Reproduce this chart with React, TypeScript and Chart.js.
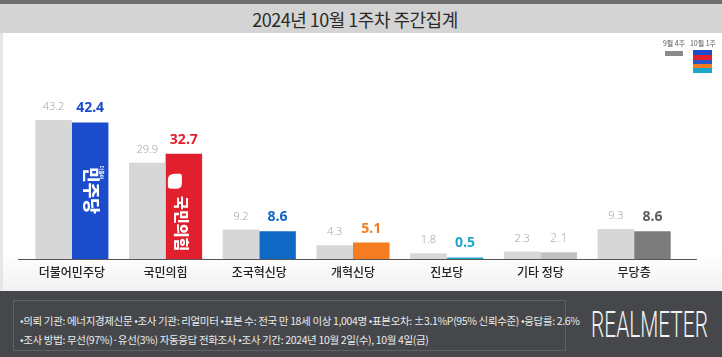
import React, { useEffect, useRef } from "react";
import { Chart, registerables } from "chart.js";

Chart.register(...registerables);

const categories = ["더불어민주당", "국민의힘", "조국혁신당", "개혁신당", "진보당", "기타 정당", "무당층"];
const prevWeek = [43.2, 29.9, 9.2, 4.3, 1.8, 2.3, 9.3];
const thisWeek = [42.4, 32.7, 8.6, 5.1, 0.5, 2.1, 8.6];
const prevLabel = "9월 4주";
const thisLabel = "10월 1주";
const thisColors = ["#1a4ccc", "#e11f2d", "#1069c4", "#f57c20", "#1ea7cc", "#c2c2c2", "#7c7c7c"];
const thisLabelColors = ["#1a4ccc", "#e11f2d", "#1069c4", "#f57c20", "#1ea7cc", "#b4b4b4", "#5e5e5e"];
const thisLabelBold = [true, true, true, true, true, false, true];
const prevColor = "#d7d7d7";

const title = "2024년 10월 1주차 주간집계";
const footLine1 = "•의뢰 기관: 에너지경제신문  •조사 기관: 리얼미터 •표본 수: 전국 만 18세 이상 1,004명 •표본오차: ±3.1%P(95% 신뢰수준) •응답률: 2.6%";
const footLine2 = "•조사 방법: 무선(97%)·유선(3%) 자동응답 전화조사 •조사 기간: 2024년 10월 2일(수), 10월 4일(금)";

const KR = "'Noto Sans CJK KR', 'Noto Sans', sans-serif";

const overlay = {
  id: "overlay",
  afterDatasetsDraw(chart: any) {
    const ctx = chart.ctx;
    const area = chart.chartArea;
    const xs = chart.scales.x;
    ctx.save();
    ctx.strokeStyle = "#555";
    ctx.lineWidth = 1;
    ctx.beginPath();
    ctx.moveTo(area.left - 7, Math.round(area.bottom) + 0.5);
    ctx.lineTo(area.right + 16, Math.round(area.bottom) + 0.5);
    ctx.stroke();
    ctx.textAlign = "center";
    ctx.textBaseline = "middle";
    ctx.fillStyle = "#222";
    ctx.font = `500 12px ${KR}`;
    categories.forEach((c, i) => {
      ctx.fillText(c, xs.getPixelForValue(i), area.bottom + 13);
    });
    const m0 = chart.getDatasetMeta(0);
    const m1 = chart.getDatasetMeta(1);
    ctx.font = `300 11px 'Noto Sans', sans-serif`;
    ctx.fillStyle = "#a6a6a6";
    m0.data.forEach((bar: any, i: number) => {
      ctx.fillText(prevWeek[i].toFixed(1), bar.x, bar.y - 13);
    });
    m1.data.forEach((bar: any, i: number) => {
      ctx.font = thisLabelBold[i] ? `bold 14px 'Noto Sans', sans-serif` : `300 13px 'Noto Sans', sans-serif`;
      ctx.fillStyle = thisLabelColors[i];
      ctx.fillText(thisWeek[i].toFixed(1), bar.x, bar.y - 14);
    });
    const b0 = m1.data[0];
    ctx.fillStyle = "#fff";
    ctx.save();
    ctx.translate(b0.x + 1, b0.y + 68);
    ctx.rotate(Math.PI / 2);
    ctx.font = `900 17px ${KR}`;
    ctx.fillText("민주당", 0, 0);
    ctx.font = `bold 5px ${KR}`;
    ctx.fillText("더불어", -18, -11);
    ctx.restore();
    const b1 = m1.data[1];
    ctx.save();
    ctx.translate(b1.x - 16, b1.y + 20);
    ctx.beginPath();
    ctx.moveTo(0, 6);
    ctx.quadraticCurveTo(0, 0, 7, 0);
    ctx.lineTo(12, 0);
    ctx.quadraticCurveTo(14, 0, 14, 3);
    ctx.lineTo(14, 10);
    ctx.quadraticCurveTo(14, 15, 8, 15);
    ctx.lineTo(3, 15);
    ctx.quadraticCurveTo(0, 15, 0, 12);
    ctx.closePath();
    ctx.fill();
    ctx.restore();
    ctx.save();
    ctx.translate(b1.x - 2, b1.y + 70);
    ctx.rotate(Math.PI / 2);
    ctx.font = `900 15px ${KR}`;
    ctx.fillText("국민의힘", 0, 0);
    ctx.restore();
    ctx.restore();
  },
};

export default function App() {
  const ref = useRef<HTMLCanvasElement>(null);
  useEffect(() => {
    document.body.style.margin = "0";
    const chart = new Chart(ref.current!, {
      type: "bar",
      data: {
        labels: categories,
        datasets: [
          { label: prevLabel, data: prevWeek, backgroundColor: prevColor, borderWidth: 0 },
          { label: thisLabel, data: thisWeek, backgroundColor: thisColors, borderWidth: 0 },
        ],
      },
      options: {
        responsive: false,
        animation: false,
        events: [],
        layout: { padding: { left: 25, right: 41, top: 98, bottom: 32 } },
        datasets: { bar: { categoryPercentage: 0.78, barPercentage: 1.0 } },
        scales: {
          x: { display: false },
          y: { display: false, min: 0, max: 50 },
        },
        plugins: { legend: { display: false }, tooltip: { enabled: false } },
      },
      plugins: [overlay],
    });
    return () => chart.destroy();
  }, []);

  return (
    <div style={{ position: "relative", width: 722, height: 357, overflow: "hidden", background: "#fff", fontFamily: KR }}>
      <div style={{ position: "absolute", left: 0, top: 0, width: 722, height: 4, background: "#6e6e6e" }} />
      <div style={{ position: "absolute", left: 0, top: 4, width: 722, height: 29, background: "#d4d4d4", display: "flex", alignItems: "center", justifyContent: "center" }}>
        <span style={{ fontSize: 18, color: "#2b2b2b", fontWeight: 400, letterSpacing: -0.5, position: "relative", left: -6 }}>{title}</span>
      </div>
      <div style={{ position: "absolute", left: 0, top: 33, width: 722, height: 258, background: "linear-gradient(#ffffff 85%, #f1f1f1)" }} />
      <div style={{ position: "absolute", left: 0, top: 33, width: 3, height: 258, background: "#e4e6ea" }} />
      <canvas ref={ref} width={722} height={291} style={{ position: "absolute", left: 0, top: 0 }} />
      <div style={{ position: "absolute", left: 660, top: 38, width: 28, fontSize: 7, color: "#555", textAlign: "center", whiteSpace: "nowrap" }}>{prevLabel}</div>
      <div style={{ position: "absolute", left: 665, top: 51, width: 18, height: 5, background: "#8a8a8a" }} />
      <div style={{ position: "absolute", left: 689, top: 38, width: 28, fontSize: 7, color: "#555", textAlign: "center", whiteSpace: "nowrap" }}>{thisLabel}</div>
      <div style={{ position: "absolute", left: 693, top: 50, width: 19, height: 23, background: "linear-gradient(#1a4ccc 0 22%, #e11f2d 22% 44%, #2a55c8 44% 60%, #f57c20 60% 78%, #1ea7cc 78% 100%)" }} />
      <div style={{ position: "absolute", left: 0, top: 291, width: 722, height: 66, background: "#45474b" }} />
      <div style={{ position: "absolute", left: 13, top: 300, width: 553, height: 51, border: "1px solid #5d6064", boxSizing: "border-box" }} />
      <div style={{ position: "absolute", left: 20, top: 313, fontSize: 10.5, color: "#ececec", whiteSpace: "nowrap", letterSpacing: -0.35 }}>{footLine1}</div>
      <div style={{ position: "absolute", left: 20, top: 332, fontSize: 10.5, color: "#ececec", whiteSpace: "nowrap", letterSpacing: -0.35 }}>{footLine2}</div>
      <div style={{ position: "absolute", left: 591, top: 305, width: 114, height: 40, overflow: "visible" }}>
        <span style={{ display: "inline-block", fontFamily: "Roboto, 'DejaVu Sans', sans-serif", fontWeight: 300, fontSize: 36, color: "#f2f2f2", lineHeight: "40px", transform: "scaleX(0.58)", transformOrigin: "left center", whiteSpace: "nowrap" }}>REALMETER</span>
      </div>
    </div>
  );
}
